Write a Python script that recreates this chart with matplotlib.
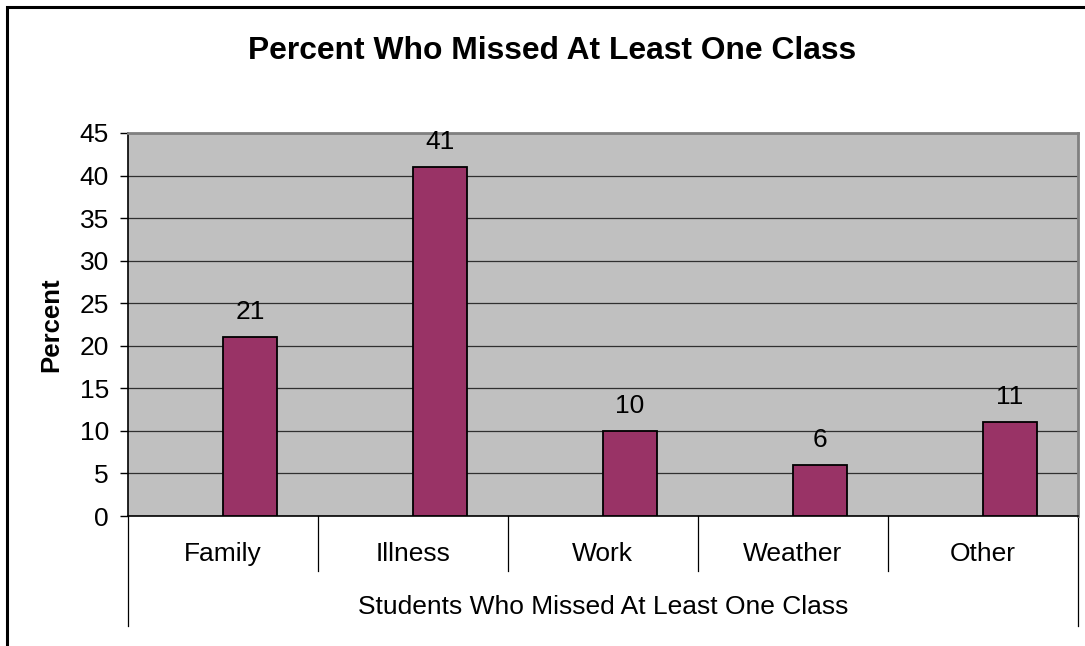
import matplotlib
matplotlib.use("Agg")
import matplotlib.pyplot as plt
import matplotlib.transforms as mtransforms
from matplotlib.patches import Rectangle

plt.rcParams['font.family'] = ['Liberation Sans', 'DejaVu Sans']

# datos
categorias = ["Family", "Illness", "Work", "Weather", "Other"]
porcentajes = [21, 41, 10, 6, 11]
titulo = "Percent Who Missed At Least One Class"
etiqueta_x = "Students Who Missed At Least One Class"
etiqueta_y = "Percent"

fig = plt.figure(figsize=(10.85, 6.46), dpi=100)
ax = fig.add_axes([127.7/1085, 1-516/646, (1078-127.7)/1085, 383/646])

ancho = 1/3.5  # estilo excel, gap 150% con dos series
pos = list(range(len(categorias)))
pos_barras = [p + ancho/2 for p in pos]

ax.set_facecolor("#C0C0C0")
ax.bar(pos_barras, porcentajes, width=ancho, color="#993366", edgecolor="black",
       linewidth=1.3, zorder=3)
for x, v in zip(pos_barras, porcentajes):
    ax.annotate(str(v), (x, v), xytext=(0, 13), textcoords="offset points",
                ha="center", va="baseline", fontsize=19)

ax.set_xlim(-0.5, len(categorias) - 0.5)
ax.set_ylim(0, 45)
ax.set_yticks(range(0, 46, 5))
ax.yaxis.grid(True, color="#303030", linewidth=0.9, zorder=1)
ax.set_axisbelow(True)
ax.tick_params(axis="y", length=5.5, width=1, pad=8, labelsize=19)
ax.set_xticks([])

for lado in ["top", "right"]:
    ax.spines[lado].set_color("#808080")
    ax.spines[lado].set_linewidth(2)
for lado in ["left", "bottom"]:
    ax.spines[lado].set_color("black")
    ax.spines[lado].set_linewidth(1.2)

trans = mtransforms.blended_transform_factory(ax.transData, ax.transAxes)
for i in range(len(categorias) + 1):
    x = i - 0.5
    y_fin = -0.287 if i in (0, len(categorias)) else -0.1436
    ax.plot([x, x], [0, y_fin], transform=trans, color="black", linewidth=0.9,
            clip_on=False)
for p, c in zip(pos, categorias):
    ax.text(p, -0.099, c, transform=trans, ha="center", va="center", fontsize=19)
ax.text(2, -0.238, etiqueta_x, transform=trans, ha="center", va="center", fontsize=19)

ax.set_ylabel(etiqueta_y, fontsize=18.5, fontweight="bold", labelpad=12)
fig.text(552/1085, 1-51/646, titulo, ha="center", va="center", fontsize=22.9,
         fontweight="bold")

fig.patches.append(Rectangle((7/1085, -0.05), 1.2, 1-7/646+0.05, transform=fig.transFigure,
                             fill=False, edgecolor="black", linewidth=2.2))

fig.savefig("out.png", dpi=100)
